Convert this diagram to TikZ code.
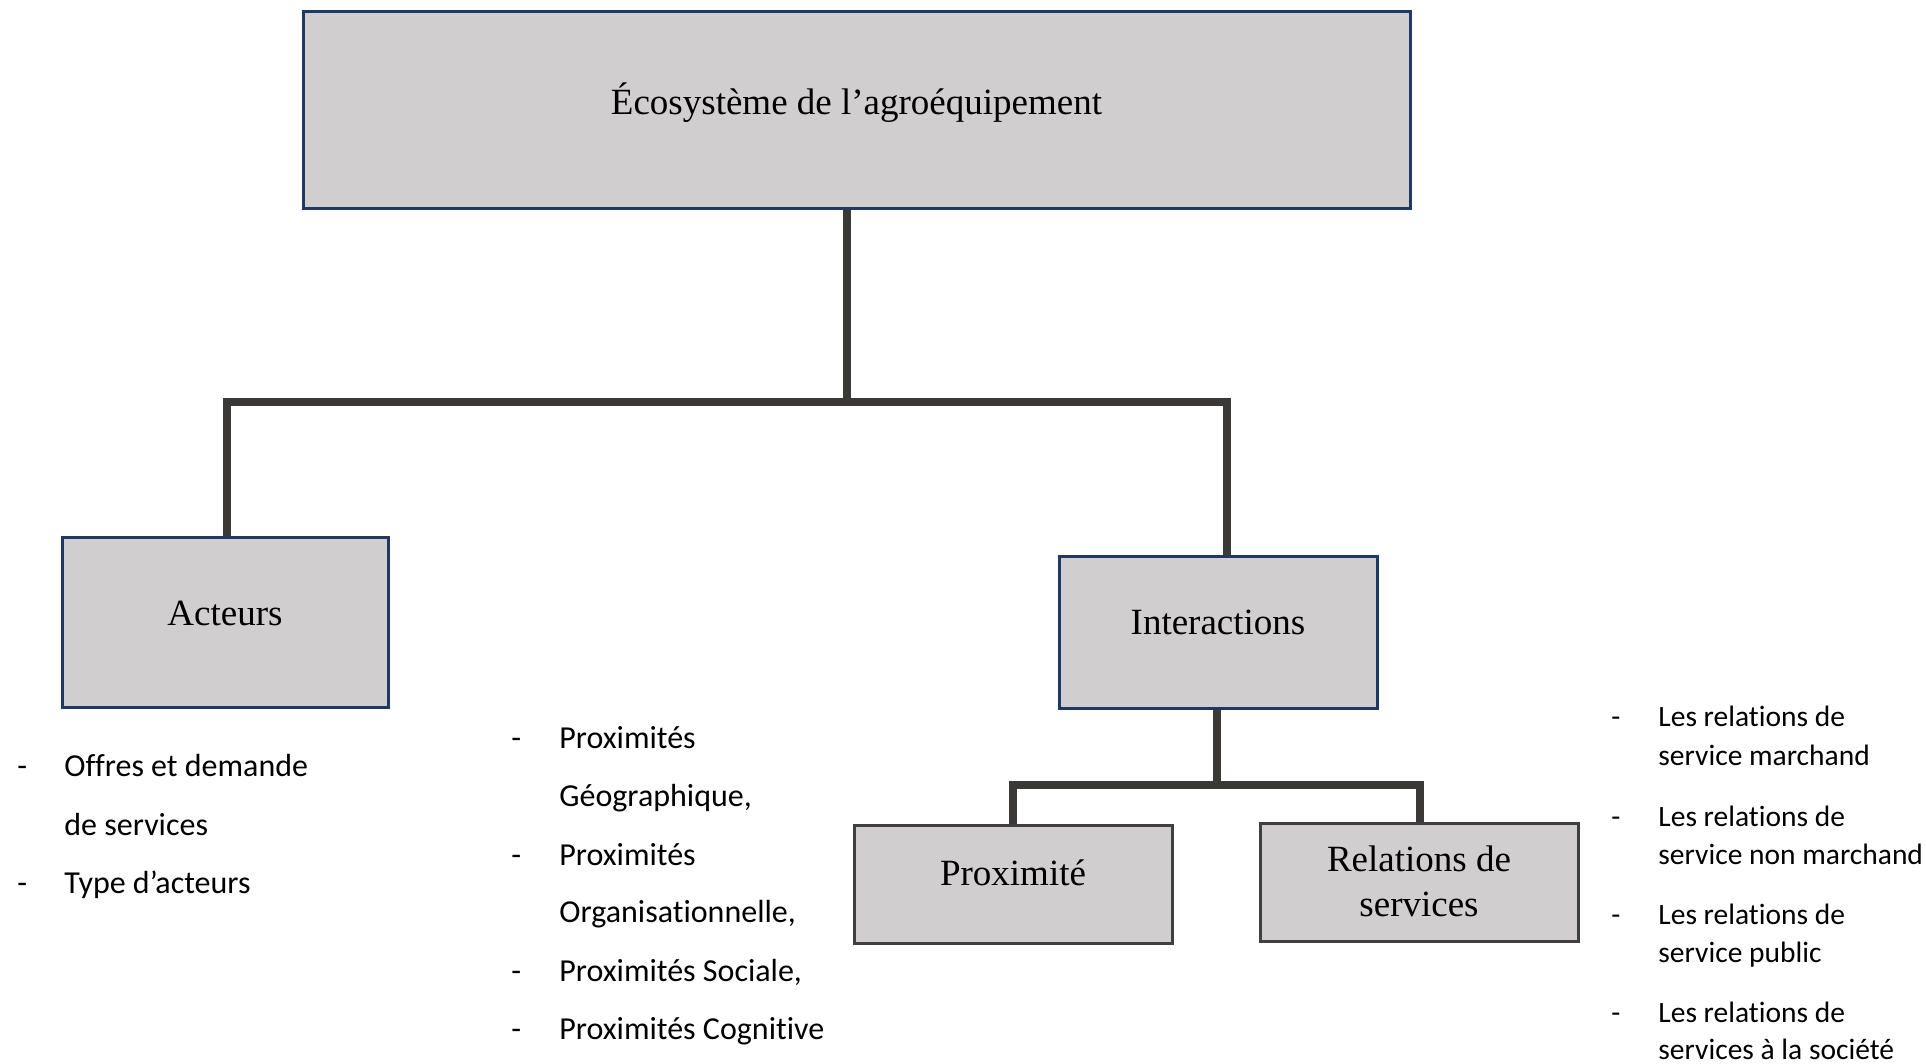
\documentclass[tikz,border=0pt]{standalone}
\usepackage{fontspec}
\setmainfont{Liberation Serif}
\newfontfamily\calibri[Ligatures={NoCommon}]{Carlito}
\definecolor{boxfill}{HTML}{D0CECE}
\definecolor{navy}{HTML}{1F3864}
\definecolor{boxgray}{HTML}{404040}
\definecolor{linkgray}{HTML}{3B3838}
\tikzset{
  box/.style={draw=navy, line width=1.5pt, fill=boxfill, inner sep=0pt},
  graybox/.style={box, draw=boxgray},
  ttl/.style={font=\fontsize{18.5}{22.5}\selectfont, inner sep=0pt, align=center},
  link/.style={draw=linkgray, line width=3.75pt, line join=miter},
  item/.style={font=\calibri\fontsize{16}{19}\selectfont, inner sep=0pt, anchor=base west},
  smallitem/.style={font=\calibri\fontsize{14.75}{17}\selectfont, inner sep=0pt, anchor=base west}
}
\begin{document}
\begin{tikzpicture}[x=0.5pt, y=-0.5pt]
\useasboundingbox[fill=white] (0,0) rectangle (1926,1064);

% boxes
\node[box, minimum width=553.5pt, minimum height=98.5pt] (eco) at (856.5,110.5) {};
\node[box, minimum width=163pt, minimum height=85pt] (act) at (225,622) {};
\node[box, minimum width=159pt, minimum height=76pt] (inter) at (1218,632) {};
\node[graybox, minimum width=159pt, minimum height=59pt] (prox) at (1013,884) {};
\node[graybox, minimum width=159pt, minimum height=59pt] (rel) at (1419,882) {};

% box titles
\node[ttl, anchor=base] (ecot) at ([yshift=-2pt]eco.center) {Écosystème de l’agroéquipement};
\node[ttl, anchor=base] (actt) at ([yshift=-1.5pt]act.center) {Acteurs};
\node[ttl, anchor=base] (intert) at ([yshift=-1pt]inter.center) {Interactions};
\node[ttl, anchor=base] (proxt) at ([yshift=-0.5pt]prox.center) {Proximité};
\node[ttl] (relt) at ([yshift=0.2pt]rel.center) {Relations de\\services};

% connectors
\coordinate (jm) at (847,402);
\coordinate (jl) at (227,402);
\coordinate (jr) at (1227,402);
\draw[link] (eco.south -| jm) -- (jm);
\draw[link] (act.north -| jl) -- (jl) -- (jr) -- (inter.north -| jr);

\coordinate (km) at (1217,785);
\coordinate (kl) at (1013,785);
\coordinate (kr) at (1420,785);
\draw[link] (inter.south -| km) -- (km);
\draw[link] (prox.north -| kl) -- (kl) -- (kr) -- (rel.north -| kr);

% actors list
\node[item] (ad1) at (17,776.5) {-};
\node[item] (a1) at (64,776.5) {Offres et demande};
\node[item] (a1b) at (64,835.5) {de services};
\node[item] (ad2) at (17,893) {-};
\node[item] (a2) at (64,893) {Type d’acteurs};

% proximity list
\node[item] (pd1) at (511,748) {-};
\node[item] (p1) at (559,748) {Proximités};
\node[item] (p1b) at (559,806.5) {Géographique,};
\node[item] (pd2) at (511,865.5) {-};
\node[item] (p2) at (559,865.5) {Proximités};
\node[item] (p2b) at (559,922.5) {Organisationnelle,};
\node[item] (pd3) at (511,981.5) {-};
\node[item] (p3) at (559,981.5) {Proximités Sociale,};
\node[item] (pd4) at (511,1039.5) {-};
\node[item] (p4) at (559,1039.5) {Proximités Cognitive};

% service relations list
\node[smallitem] (rd1) at (1611,726.5) {-};
\node[smallitem] (r1) at (1658,726.5) {Les relations de};
\node[smallitem] (r1b) at (1658,765.5) {service marchand};
\node[smallitem] (rd2) at (1611,826.5) {-};
\node[smallitem] (r2) at (1658,826.5) {Les relations de};
\node[smallitem] (r2b) at (1658,864.5) {service non marchand};
\node[smallitem] (rd3) at (1611,924.5) {-};
\node[smallitem] (r3) at (1658,924.5) {Les relations de};
\node[smallitem] (r3b) at (1658,962.5) {service public};
\node[smallitem] (rd4) at (1611,1022.5) {-};
\node[smallitem] (r4) at (1658,1022.5) {Les relations de};
\node[smallitem] (r4b) at (1658,1059.5) {services à la société};
\end{tikzpicture}
\end{document}
